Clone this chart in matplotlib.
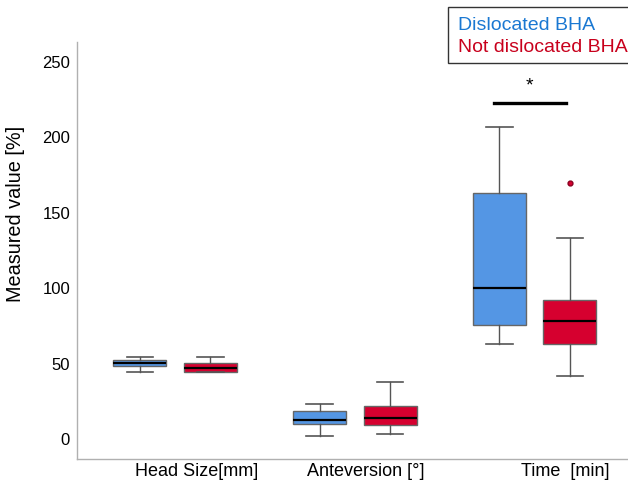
import matplotlib.pyplot as plt
import matplotlib.transforms as mtransforms

plt.rcParams['font.family'] = ['Liberation Sans', 'DejaVu Sans']

# Werte
kategorien = ['Head Size[mm]', 'Anteversion [°]', 'Time  [min]']
gruppen = ['Dislocated BHA', 'Not dislocated BHA']

# Dislocated BHA
disl_whislo = [44.4, 2.0, 63.2]
disl_q1 = [48.4, 9.9, 75.4]
disl_med = [50.4, 12.6, 100.1]
disl_q3 = [52.4, 18.6, 163.3]
disl_whishi = [54.4, 23.2, 207.0]
disl_fliers = [[], [], []]

# Not dislocated BHA
nd_whislo = [44.2, 3.1, 41.8]
nd_q1 = [44.6, 9.5, 63.2]
nd_med = [47.3, 13.9, 78.5]
nd_q3 = [50.2, 22.1, 92.2]
nd_whishi = [54.4, 37.8, 133.5]
nd_fliers = [[], [], [170.0]]

signif_y = 223
stern_y = 234


def stats(lo, q1, med, q3, hi, fl):
    return [dict(whislo=a, q1=b, med=c, q3=d, whishi=e, fliers=f)
            for a, b, c, d, e, f in zip(lo, q1, med, q3, hi, fl)]


def main():
    fig = plt.figure(figsize=(6.28, 4.86), dpi=100)
    ax = fig.add_axes([0.1226, 0.0556, 0.8774, 0.858])

    blau = '#5496e4'
    rot = '#d6002f'
    pos = range(len(kategorien))
    off = 0.196
    breite = 0.295

    for st, farbe, d in [(stats(disl_whislo, disl_q1, disl_med, disl_q3, disl_whishi, disl_fliers), blau, -off),
                         (stats(nd_whislo, nd_q1, nd_med, nd_q3, nd_whishi, nd_fliers), rot, off)]:
        ax.bxp(st, positions=[p + d for p in pos], widths=breite, patch_artist=True,
               boxprops=dict(facecolor=farbe, edgecolor='#666666', linewidth=1),
               medianprops=dict(color='black', linewidth=1.6),
               whiskerprops=dict(color='#555555', linewidth=1),
               capprops=dict(color='#555555', linewidth=1.2),
               capwidths=breite * 0.5,
               flierprops=dict(marker='o', markersize=3.5, markerfacecolor=rot,
                               markeredgecolor='#8a0020', linestyle='none'),
               manage_ticks=False)

    # Signifikanz
    ax.plot([2 - off - 0.03, 2 + off - 0.02], [signif_y, signif_y], color='black', linewidth=2.4)
    ax.text(2 - 0.03, stern_y, '*', ha='center', va='center', fontsize=14, color='black')

    ax.set_xlim(-0.546, 2.52)
    ax.set_ylim(-13.3, 263.3)
    ax.set_yticks([0, 50, 100, 150, 200, 250])
    ax.tick_params(axis='y', length=0, labelsize=12, pad=5)
    ax.set_ylabel('Measured value [%]', fontsize=14.3, labelpad=6)
    ax.yaxis.set_label_coords(-0.095, 0.588)

    ax.set_xticks(list(pos))
    ax.set_xticklabels(kategorien, fontsize=13)
    ax.tick_params(axis='x', length=0, pad=3)
    verschiebung = [22, 11, 31]
    for lab, dx in zip(ax.get_xticklabels(), verschiebung):
        lab.set_transform(lab.get_transform() + mtransforms.ScaledTranslation(dx / 100, 0, fig.dpi_scale_trans))

    for s in ['top', 'right']:
        ax.spines[s].set_visible(False)
    for s in ['left', 'bottom']:
        ax.spines[s].set_color('#b0b0b0')
        ax.spines[s].set_linewidth(1)

    # Legende als Textkasten
    fig.patches.append(plt.Rectangle((448 / 628, 1 - 63 / 486), 0.5, 56 / 486,
                                     transform=fig.transFigure, facecolor='white',
                                     edgecolor='#333333', linewidth=1))
    fig.text(458 / 628, 1 - 25 / 486, gruppen[0], color='#1a78d2', fontsize=14, va='center')
    fig.text(458 / 628, 1 - 48 / 486, gruppen[1], color='#c8001c', fontsize=14, va='center')

    fig.savefig('out.png', dpi=100)


if __name__ == '__main__':
    main()
